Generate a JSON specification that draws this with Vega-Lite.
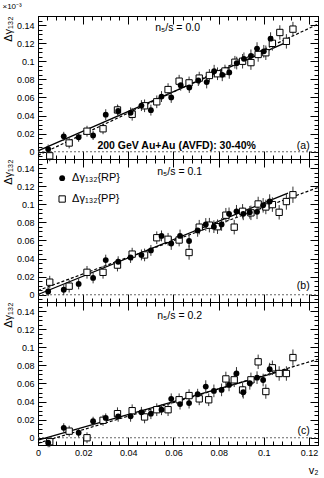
{
  "$schema": "https://vega.github.io/schema/vega-lite/v6.json",
  "padding": {"left": 1, "top": 2, "right": 6, "bottom": 2},
  "spacing": 0,
  "bounds": "flush",
  "config": {
    "font": "Liberation Sans",
    "view": {"stroke": "black", "strokeWidth": 1},
    "axis": {"minExtent": 0, "grid": false, "domainColor": "black", "tickColor": "black", "labelColor": "black", "titleColor": "black", "labelFont": "Liberation Sans", "titleFont": "Liberation Sans", "labelFontSize": 9, "titleFontSize": 11, "titleFontWeight": "normal", "labelOverlap": false, "labelFlush": false}
  },
  "datasets": {
    "pts": [
      {"p":"a","t":"RP","x":0.0045,"y":0.003,"e":0.005},{"p":"a","t":"RP","x":0.0114,"y":0.017,"e":0.005},{"p":"a","t":"RP","x":0.018,"y":0.016,"e":0.005},{"p":"a","t":"RP","x":0.0244,"y":0.018,"e":0.005},{"p":"a","t":"RP","x":0.030,"y":0.041,"e":0.006},{"p":"a","t":"RP","x":0.0355,"y":0.045,"e":0.006},{"p":"a","t":"RP","x":0.041,"y":0.043,"e":0.006},{"p":"a","t":"RP","x":0.0458,"y":0.051,"e":0.006},{"p":"a","t":"RP","x":0.050,"y":0.046,"e":0.006},{"p":"a","t":"RP","x":0.0547,"y":0.061,"e":0.006},{"p":"a","t":"RP","x":0.059,"y":0.060,"e":0.006},{"p":"a","t":"RP","x":0.0632,"y":0.0735,"e":0.006},{"p":"a","t":"RP","x":0.067,"y":0.071,"e":0.006},{"p":"a","t":"RP","x":0.071,"y":0.0787,"e":0.006},{"p":"a","t":"RP","x":0.0747,"y":0.077,"e":0.007},{"p":"a","t":"RP","x":0.078,"y":0.089,"e":0.007},{"p":"a","t":"RP","x":0.0816,"y":0.085,"e":0.007},{"p":"a","t":"RP","x":0.0847,"y":0.0877,"e":0.007},{"p":"a","t":"RP","x":0.088,"y":0.098,"e":0.007},{"p":"a","t":"RP","x":0.0912,"y":0.1027,"e":0.007},{"p":"a","t":"RP","x":0.0943,"y":0.106,"e":0.007},{"p":"a","t":"RP","x":0.097,"y":0.114,"e":0.007},{"p":"a","t":"RP","x":0.100,"y":0.111,"e":0.007},{"p":"a","t":"RP","x":0.103,"y":0.125,"e":0.007},
      {"p":"a","t":"PP","x":0.0052,"y":-0.0045,"e":0.006},{"p":"a","t":"PP","x":0.0138,"y":0.0097,"e":0.006},{"p":"a","t":"PP","x":0.0217,"y":0.0227,"e":0.006},{"p":"a","t":"PP","x":0.0288,"y":0.0254,"e":0.006},{"p":"a","t":"PP","x":0.0352,"y":0.0462,"e":0.006},{"p":"a","t":"PP","x":0.0417,"y":0.0414,"e":0.007},{"p":"a","t":"PP","x":0.0472,"y":0.0508,"e":0.007},{"p":"a","t":"PP","x":0.0526,"y":0.0552,"e":0.007},{"p":"a","t":"PP","x":0.0576,"y":0.0687,"e":0.007},{"p":"a","t":"PP","x":0.0625,"y":0.078,"e":0.007},{"p":"a","t":"PP","x":0.0669,"y":0.0761,"e":0.007},{"p":"a","t":"PP","x":0.0714,"y":0.0814,"e":0.007},{"p":"a","t":"PP","x":0.0759,"y":0.0843,"e":0.007},{"p":"a","t":"PP","x":0.0795,"y":0.0862,"e":0.007},{"p":"a","t":"PP","x":0.0828,"y":0.0892,"e":0.007},{"p":"a","t":"PP","x":0.0872,"y":0.0989,"e":0.007},{"p":"a","t":"PP","x":0.0906,"y":0.100,"e":0.008},{"p":"a","t":"PP","x":0.0943,"y":0.0985,"e":0.008},{"p":"a","t":"PP","x":0.0975,"y":0.1075,"e":0.008},{"p":"a","t":"PP","x":0.1009,"y":0.1094,"e":0.008},{"p":"a","t":"PP","x":0.1038,"y":0.1198,"e":0.008},{"p":"a","t":"PP","x":0.1071,"y":0.1318,"e":0.008},{"p":"a","t":"PP","x":0.110,"y":0.122,"e":0.008},{"p":"a","t":"PP","x":0.1129,"y":0.1355,"e":0.008},
      {"p":"b","t":"RP","x":0.0045,"y":0.0036,"e":0.005},{"p":"b","t":"RP","x":0.0114,"y":0.0055,"e":0.006},{"p":"b","t":"RP","x":0.018,"y":0.012,"e":0.006},{"p":"b","t":"RP","x":0.0244,"y":0.0186,"e":0.006},{"p":"b","t":"RP","x":0.030,"y":0.0383,"e":0.006},{"p":"b","t":"RP","x":0.0355,"y":0.0365,"e":0.006},{"p":"b","t":"RP","x":0.041,"y":0.0412,"e":0.006},{"p":"b","t":"RP","x":0.0458,"y":0.044,"e":0.006},{"p":"b","t":"RP","x":0.050,"y":0.049,"e":0.006},{"p":"b","t":"RP","x":0.0547,"y":0.065,"e":0.006},{"p":"b","t":"RP","x":0.059,"y":0.0566,"e":0.007},{"p":"b","t":"RP","x":0.0629,"y":0.065,"e":0.007},{"p":"b","t":"RP","x":0.0669,"y":0.0594,"e":0.007},{"p":"b","t":"RP","x":0.0707,"y":0.0711,"e":0.007},{"p":"b","t":"RP","x":0.0743,"y":0.0777,"e":0.007},{"p":"b","t":"RP","x":0.0779,"y":0.0752,"e":0.007},{"p":"b","t":"RP","x":0.0813,"y":0.0777,"e":0.007},{"p":"b","t":"RP","x":0.0846,"y":0.0894,"e":0.007},{"p":"b","t":"RP","x":0.0879,"y":0.0922,"e":0.007},{"p":"b","t":"RP","x":0.0909,"y":0.0894,"e":0.007},{"p":"b","t":"RP","x":0.0938,"y":0.0911,"e":0.007},{"p":"b","t":"RP","x":0.097,"y":0.0916,"e":0.008},{"p":"b","t":"RP","x":0.0997,"y":0.0988,"e":0.008},{"p":"b","t":"RP","x":0.1026,"y":0.103,"e":0.008},
      {"p":"b","t":"PP","x":0.0052,"y":0.0139,"e":0.007},{"p":"b","t":"PP","x":0.0138,"y":0.0095,"e":0.007},{"p":"b","t":"PP","x":0.0217,"y":0.0248,"e":0.007},{"p":"b","t":"PP","x":0.0288,"y":0.0248,"e":0.007},{"p":"b","t":"PP","x":0.0352,"y":0.0328,"e":0.007},{"p":"b","t":"PP","x":0.0417,"y":0.0449,"e":0.007},{"p":"b","t":"PP","x":0.0472,"y":0.044,"e":0.007},{"p":"b","t":"PP","x":0.0526,"y":0.063,"e":0.007},{"p":"b","t":"PP","x":0.0576,"y":0.0613,"e":0.007},{"p":"b","t":"PP","x":0.0625,"y":0.0605,"e":0.007},{"p":"b","t":"PP","x":0.0669,"y":0.0467,"e":0.008},{"p":"b","t":"PP","x":0.0714,"y":0.0747,"e":0.008},{"p":"b","t":"PP","x":0.0759,"y":0.0769,"e":0.008},{"p":"b","t":"PP","x":0.0795,"y":0.0752,"e":0.008},{"p":"b","t":"PP","x":0.0832,"y":0.0879,"e":0.008},{"p":"b","t":"PP","x":0.0869,"y":0.0747,"e":0.008},{"p":"b","t":"PP","x":0.0906,"y":0.0922,"e":0.008},{"p":"b","t":"PP","x":0.0943,"y":0.0905,"e":0.008},{"p":"b","t":"PP","x":0.0975,"y":0.1003,"e":0.008},{"p":"b","t":"PP","x":0.1009,"y":0.097,"e":0.008},{"p":"b","t":"PP","x":0.1038,"y":0.0996,"e":0.008},{"p":"b","t":"PP","x":0.1068,"y":0.0911,"e":0.008},{"p":"b","t":"PP","x":0.110,"y":0.103,"e":0.009},{"p":"b","t":"PP","x":0.1129,"y":0.1105,"e":0.009},
      {"p":"c","t":"RP","x":0.0045,"y":-0.0055,"e":0.005},{"p":"c","t":"RP","x":0.0114,"y":0.011,"e":0.005},{"p":"c","t":"RP","x":0.018,"y":0.0055,"e":0.005},{"p":"c","t":"RP","x":0.0244,"y":0.0182,"e":0.005},{"p":"c","t":"RP","x":0.030,"y":0.0219,"e":0.005},{"p":"c","t":"RP","x":0.0355,"y":0.0237,"e":0.006},{"p":"c","t":"RP","x":0.041,"y":0.0237,"e":0.006},{"p":"c","t":"RP","x":0.0458,"y":0.0281,"e":0.006},{"p":"c","t":"RP","x":0.050,"y":0.0266,"e":0.006},{"p":"c","t":"RP","x":0.0547,"y":0.031,"e":0.006},{"p":"c","t":"RP","x":0.059,"y":0.043,"e":0.006},{"p":"c","t":"RP","x":0.0629,"y":0.0372,"e":0.006},{"p":"c","t":"RP","x":0.0669,"y":0.0383,"e":0.006},{"p":"c","t":"RP","x":0.0707,"y":0.0481,"e":0.006},{"p":"c","t":"RP","x":0.0743,"y":0.0565,"e":0.007},{"p":"c","t":"RP","x":0.0779,"y":0.0518,"e":0.007},{"p":"c","t":"RP","x":0.0813,"y":0.0529,"e":0.007},{"p":"c","t":"RP","x":0.0846,"y":0.0584,"e":0.007},{"p":"c","t":"RP","x":0.0879,"y":0.0711,"e":0.007},{"p":"c","t":"RP","x":0.0909,"y":0.0503,"e":0.007},{"p":"c","t":"RP","x":0.0938,"y":0.0602,"e":0.007},{"p":"c","t":"RP","x":0.097,"y":0.0664,"e":0.007},{"p":"c","t":"RP","x":0.0997,"y":0.0638,"e":0.007},{"p":"c","t":"RP","x":0.1026,"y":0.0758,"e":0.007},
      {"p":"c","t":"PP","x":0.0052,"y":-0.0044,"e":0.006},{"p":"c","t":"PP","x":0.0138,"y":0.0073,"e":0.006},{"p":"c","t":"PP","x":0.0217,"y":0.0,"e":0.006},{"p":"c","t":"PP","x":0.0288,"y":0.0193,"e":0.006},{"p":"c","t":"PP","x":0.0352,"y":0.0266,"e":0.007},{"p":"c","t":"PP","x":0.0417,"y":0.0299,"e":0.007},{"p":"c","t":"PP","x":0.0472,"y":0.023,"e":0.007},{"p":"c","t":"PP","x":0.0526,"y":0.031,"e":0.007},{"p":"c","t":"PP","x":0.0576,"y":0.031,"e":0.007},{"p":"c","t":"PP","x":0.0625,"y":0.042,"e":0.007},{"p":"c","t":"PP","x":0.0669,"y":0.0466,"e":0.007},{"p":"c","t":"PP","x":0.0714,"y":0.043,"e":0.007},{"p":"c","t":"PP","x":0.0756,"y":0.042,"e":0.007},{"p":"c","t":"PP","x":0.0832,"y":0.065,"e":0.008},{"p":"c","t":"PP","x":0.0869,"y":0.064,"e":0.008},{"p":"c","t":"PP","x":0.0906,"y":0.0528,"e":0.008},{"p":"c","t":"PP","x":0.0943,"y":0.064,"e":0.008},{"p":"c","t":"PP","x":0.0975,"y":0.0839,"e":0.008},{"p":"c","t":"PP","x":0.1009,"y":0.0511,"e":0.008},{"p":"c","t":"PP","x":0.1038,"y":0.0773,"e":0.008},{"p":"c","t":"PP","x":0.1068,"y":0.071,"e":0.008},{"p":"c","t":"PP","x":0.110,"y":0.071,"e":0.008},{"p":"c","t":"PP","x":0.1129,"y":0.0886,"e":0.009}
    ],
    "fits": [
      {"p":"a","s":"solid","x":0,"y":0.001},{"p":"a","s":"solid","x":0.111,"y":0.122},
      {"p":"a","s":"dash","x":0,"y":-0.004},{"p":"a","s":"dash","x":0.124,"y":0.141},
      {"p":"b","s":"solid","x":0,"y":0.0003},{"p":"b","s":"solid","x":0.1107,"y":0.1124},
      {"p":"b","s":"dash","x":0,"y":0.0047},{"p":"b","s":"dash","x":0.124,"y":0.1185},
      {"p":"c","s":"solid","x":0,"y":-0.0025},{"p":"c","s":"solid","x":0.1107,"y":0.0758},
      {"p":"c","s":"dash","x":0,"y":-0.006},{"p":"c","s":"dash","x":0.124,"y":0.0868}
    ],
    "zero": [{"x":0,"x2":0.124,"y":0}],
    "txt": [
      {"p":"a","k":"ns","x":0.0519,"y":0.1366,"text":"n₅/s = 0.0"},
      {"p":"a","k":"bold","x":0.0263,"y":0.0067,"text":"200 GeV Au+Au (AVFD): 30-40%"},
      {"p":"a","k":"tag","x":0.1203,"y":0.0067,"text":"(a)"},
      {"p":"b","k":"ns","x":0.0528,"y":0.1357,"text":"n₅/s = 0.1"},
      {"p":"b","k":"tag","x":0.1203,"y":0.0102,"text":"(b)"},
      {"p":"b","k":"leg","x":0.0151,"y":0.1288,"text":"Δγ₁₃₂{RP}"},
      {"p":"b","k":"leg","x":0.0151,"y":0.1058,"text":"Δγ₁₃₂{PP}"},
      {"p":"c","k":"ns","x":0.0528,"y":0.1346,"text":"n₅/s = 0.2"},
      {"p":"c","k":"tag","x":0.1203,"y":0.0077,"text":"(c)"}
    ],
    "legmk": [{"t":"RP","x":0.0107,"y":0.1288},{"t":"PP","x":0.0107,"y":0.1058}],
    "one": [{"x":0,"y":0}]
  },
  "vconcat": [
    {
      "title": {"text": "×10⁻³", "anchor": "start", "fontSize": 8, "fontWeight": "normal", "offset": 1, "font": "Liberation Sans"},
      "width": 280, "height": 143,
      "resolve": {"axis": {"x": "independent", "y": "independent"}},
      "layer": [
        {
          "encoding": {
            "x": {"field": "x", "type": "quantitative", "scale": {"domain": [0, 0.124], "nice": false, "zero": false},
              "axis": {"orient": "bottom", "title": null, "labels": false, "values": [0,0.004,0.008,0.012,0.016,0.02,0.024,0.028,0.032,0.036,0.04,0.044,0.048,0.052,0.056,0.06,0.064,0.068,0.072,0.076,0.08,0.084,0.088,0.092,0.096,0.1,0.104,0.108,0.112,0.116,0.12,0.124],
                "tickSize": {"condition": {"test": "abs(datum.value*50-round(datum.value*50))<0.001", "value": -8}, "value": -4}}},
            "y": {"field": "y", "type": "quantitative", "scale": {"domain": [-0.008, 0.15], "nice": false, "zero": false},
              "axis": {"orient": "left", "title": "Δγ₁₃₂", "titleAnchor": "end", "titlePadding": 3, "labelPadding": 12, "values": [-0.005,0,0.005,0.01,0.015,0.02,0.025,0.03,0.035,0.04,0.045,0.05,0.055,0.06,0.065,0.07,0.075,0.08,0.085,0.09,0.095,0.1,0.105,0.11,0.115,0.12,0.125,0.13,0.135,0.14,0.145,0.15],
                "labelExpr": "abs(datum.value*50-round(datum.value*50))<0.001 ? toString(round(datum.value*100)/100) : ''",
                "tickSize": {"condition": {"test": "abs(datum.value*50-round(datum.value*50))<0.001", "value": -8}, "value": -4}}}
          },
          "layer": [
            {"data": {"name": "zero"}, "mark": {"type": "rule", "color": "#666", "strokeDash": [2, 2], "strokeWidth": 1}, "encoding": {"x2": {"field": "x2"}}},
            {"data": {"name": "fits"}, "transform": [{"filter": "datum.p=='a' && datum.s=='dash'"}], "mark": {"type": "line", "color": "black", "strokeWidth": 1.2, "strokeDash": [3, 2]}, "encoding": {}},
            {"data": {"name": "fits"}, "transform": [{"filter": "datum.p=='a' && datum.s=='solid'"}], "mark": {"type": "line", "color": "black", "strokeWidth": 1.3}, "encoding": {}},
            {"data": {"name": "pts"}, "transform": [{"filter": "datum.p=='a'"}], "mark": {"type": "errorbar", "color": "#333", "thickness": 1}, "encoding": {"yError": {"field": "e"}}},
            {"data": {"name": "pts"}, "transform": [{"filter": "datum.p=='a' && datum.t=='PP'"}], "mark": {"type": "point", "shape": "square", "filled": true, "fill": "white", "stroke": "black", "strokeWidth": 1, "size": 40, "opacity": 1}},
            {"data": {"name": "pts"}, "transform": [{"filter": "datum.p=='a' && datum.t=='RP'"}], "mark": {"type": "point", "shape": "circle", "filled": true, "color": "black", "size": 34, "opacity": 1}},
            {"data": {"name": "txt"}, "transform": [{"filter": "datum.p=='a' && datum.k=='ns'"}], "mark": {"type": "text", "align": "left", "baseline": "middle", "fontSize": 10.5, "color": "black"}, "encoding": {"text": {"field": "text"}}},
            {"data": {"name": "txt"}, "transform": [{"filter": "datum.p=='a' && datum.k=='bold'"}], "mark": {"type": "text", "align": "left", "baseline": "middle", "fontSize": 10.5, "fontWeight": "bold", "color": "black"}, "encoding": {"text": {"field": "text"}}},
            {"data": {"name": "txt"}, "transform": [{"filter": "datum.p=='a' && datum.k=='tag'"}], "mark": {"type": "text", "align": "right", "baseline": "middle", "fontSize": 10.5, "color": "black"}, "encoding": {"text": {"field": "text"}}}
          ]
        },
        {
          "data": {"name": "one"},
          "mark": {"type": "point", "opacity": 0},
          "encoding": {
            "x": {"field": "x", "type": "quantitative", "scale": {"domain": [0, 0.124], "nice": false, "zero": false},
              "axis": {"orient": "top", "title": null, "labels": false, "values": [0,0.004,0.008,0.012,0.016,0.02,0.024,0.028,0.032,0.036,0.04,0.044,0.048,0.052,0.056,0.06,0.064,0.068,0.072,0.076,0.08,0.084,0.088,0.092,0.096,0.1,0.104,0.108,0.112,0.116,0.12,0.124],
                "tickSize": {"condition": {"test": "abs(datum.value*50-round(datum.value*50))<0.001", "value": -8}, "value": -4}}},
            "y": {"field": "y", "type": "quantitative", "scale": {"domain": [-0.008, 0.15], "nice": false, "zero": false},
              "axis": {"orient": "right", "title": null, "labels": false, "values": [-0.005,0,0.005,0.01,0.015,0.02,0.025,0.03,0.035,0.04,0.045,0.05,0.055,0.06,0.065,0.07,0.075,0.08,0.085,0.09,0.095,0.1,0.105,0.11,0.115,0.12,0.125,0.13,0.135,0.14,0.145,0.15],
                "tickSize": {"condition": {"test": "abs(datum.value*50-round(datum.value*50))<0.001", "value": -8}, "value": -4}}}
          }
        }
      ]
    },
    {
      "width": 280, "height": 143,
      "resolve": {"axis": {"x": "independent", "y": "independent"}},
      "layer": [
        {
          "encoding": {
            "x": {"field": "x", "type": "quantitative", "scale": {"domain": [0, 0.124], "nice": false, "zero": false},
              "axis": {"orient": "bottom", "title": null, "labels": false, "values": [0,0.004,0.008,0.012,0.016,0.02,0.024,0.028,0.032,0.036,0.04,0.044,0.048,0.052,0.056,0.06,0.064,0.068,0.072,0.076,0.08,0.084,0.088,0.092,0.096,0.1,0.104,0.108,0.112,0.116,0.12,0.124],
                "tickSize": {"condition": {"test": "abs(datum.value*50-round(datum.value*50))<0.001", "value": -8}, "value": -4}}},
            "y": {"field": "y", "type": "quantitative", "scale": {"domain": [-0.008, 0.15], "nice": false, "zero": false},
              "axis": {"orient": "left", "title": "Δγ₁₃₂", "titleAnchor": "end", "titlePadding": 3, "labelPadding": 12, "values": [-0.005,0,0.005,0.01,0.015,0.02,0.025,0.03,0.035,0.04,0.045,0.05,0.055,0.06,0.065,0.07,0.075,0.08,0.085,0.09,0.095,0.1,0.105,0.11,0.115,0.12,0.125,0.13,0.135,0.14,0.145,0.15],
                "labelExpr": "abs(datum.value*50-round(datum.value*50))<0.001 ? toString(round(datum.value*100)/100) : ''",
                "tickSize": {"condition": {"test": "abs(datum.value*50-round(datum.value*50))<0.001", "value": -8}, "value": -4}}}
          },
          "layer": [
            {"data": {"name": "zero"}, "mark": {"type": "rule", "color": "#666", "strokeDash": [2, 2], "strokeWidth": 1}, "encoding": {"x2": {"field": "x2"}}},
            {"data": {"name": "fits"}, "transform": [{"filter": "datum.p=='b' && datum.s=='dash'"}], "mark": {"type": "line", "color": "black", "strokeWidth": 1.2, "strokeDash": [3, 2]}, "encoding": {}},
            {"data": {"name": "fits"}, "transform": [{"filter": "datum.p=='b' && datum.s=='solid'"}], "mark": {"type": "line", "color": "black", "strokeWidth": 1.3}, "encoding": {}},
            {"data": {"name": "pts"}, "transform": [{"filter": "datum.p=='b'"}], "mark": {"type": "errorbar", "color": "#333", "thickness": 1}, "encoding": {"yError": {"field": "e"}}},
            {"data": {"name": "pts"}, "transform": [{"filter": "datum.p=='b' && datum.t=='PP'"}], "mark": {"type": "point", "shape": "square", "filled": true, "fill": "white", "stroke": "black", "strokeWidth": 1, "size": 40, "opacity": 1}},
            {"data": {"name": "pts"}, "transform": [{"filter": "datum.p=='b' && datum.t=='RP'"}], "mark": {"type": "point", "shape": "circle", "filled": true, "color": "black", "size": 34, "opacity": 1}},
            {"data": {"name": "legmk"}, "transform": [{"filter": "datum.t=='PP'"}], "mark": {"type": "point", "shape": "square", "filled": true, "fill": "white", "stroke": "black", "strokeWidth": 1, "size": 40, "opacity": 1}},
            {"data": {"name": "legmk"}, "transform": [{"filter": "datum.t=='RP'"}], "mark": {"type": "point", "shape": "circle", "filled": true, "color": "black", "size": 34, "opacity": 1}},
            {"data": {"name": "txt"}, "transform": [{"filter": "datum.p=='b' && datum.k=='ns'"}], "mark": {"type": "text", "align": "left", "baseline": "middle", "fontSize": 10.5, "color": "black"}, "encoding": {"text": {"field": "text"}}},
            {"data": {"name": "txt"}, "transform": [{"filter": "datum.p=='b' && datum.k=='leg'"}], "mark": {"type": "text", "align": "left", "baseline": "middle", "fontSize": 11, "color": "black"}, "encoding": {"text": {"field": "text"}}},
            {"data": {"name": "txt"}, "transform": [{"filter": "datum.p=='b' && datum.k=='tag'"}], "mark": {"type": "text", "align": "right", "baseline": "middle", "fontSize": 10.5, "color": "black"}, "encoding": {"text": {"field": "text"}}}
          ]
        },
        {
          "data": {"name": "one"},
          "mark": {"type": "point", "opacity": 0},
          "encoding": {
            "x": {"field": "x", "type": "quantitative", "scale": {"domain": [0, 0.124], "nice": false, "zero": false},
              "axis": {"orient": "top", "title": null, "labels": false, "values": [0,0.004,0.008,0.012,0.016,0.02,0.024,0.028,0.032,0.036,0.04,0.044,0.048,0.052,0.056,0.06,0.064,0.068,0.072,0.076,0.08,0.084,0.088,0.092,0.096,0.1,0.104,0.108,0.112,0.116,0.12,0.124],
                "tickSize": {"condition": {"test": "abs(datum.value*50-round(datum.value*50))<0.001", "value": -8}, "value": -4}}},
            "y": {"field": "y", "type": "quantitative", "scale": {"domain": [-0.008, 0.15], "nice": false, "zero": false},
              "axis": {"orient": "right", "title": null, "labels": false, "values": [-0.005,0,0.005,0.01,0.015,0.02,0.025,0.03,0.035,0.04,0.045,0.05,0.055,0.06,0.065,0.07,0.075,0.08,0.085,0.09,0.095,0.1,0.105,0.11,0.115,0.12,0.125,0.13,0.135,0.14,0.145,0.15],
                "tickSize": {"condition": {"test": "abs(datum.value*50-round(datum.value*50))<0.001", "value": -8}, "value": -4}}}
          }
        }
      ]
    },
    {
      "width": 280, "height": 143,
      "resolve": {"axis": {"x": "independent", "y": "independent"}},
      "layer": [
        {
          "encoding": {
            "x": {"field": "x", "type": "quantitative", "scale": {"domain": [0, 0.124], "nice": false, "zero": false},
              "axis": {"orient": "bottom", "title": "v₂", "titleAnchor": "end", "titlePadding": 3, "labelPadding": 11, "values": [0,0.004,0.008,0.012,0.016,0.02,0.024,0.028,0.032,0.036,0.04,0.044,0.048,0.052,0.056,0.06,0.064,0.068,0.072,0.076,0.08,0.084,0.088,0.092,0.096,0.1,0.104,0.108,0.112,0.116,0.12,0.124],
                "labelExpr": "abs(datum.value*50-round(datum.value*50))<0.001 ? toString(round(datum.value*100)/100) : ''",
                "tickSize": {"condition": {"test": "abs(datum.value*50-round(datum.value*50))<0.001", "value": -8}, "value": -4}}},
            "y": {"field": "y", "type": "quantitative", "scale": {"domain": [-0.008, 0.15], "nice": false, "zero": false},
              "axis": {"orient": "left", "title": "Δγ₁₃₂", "titleAnchor": "end", "titlePadding": 3, "labelPadding": 12, "values": [-0.005,0,0.005,0.01,0.015,0.02,0.025,0.03,0.035,0.04,0.045,0.05,0.055,0.06,0.065,0.07,0.075,0.08,0.085,0.09,0.095,0.1,0.105,0.11,0.115,0.12,0.125,0.13,0.135,0.14,0.145,0.15],
                "labelExpr": "abs(datum.value*50-round(datum.value*50))<0.001 ? toString(round(datum.value*100)/100) : ''",
                "tickSize": {"condition": {"test": "abs(datum.value*50-round(datum.value*50))<0.001", "value": -8}, "value": -4}}}
          },
          "layer": [
            {"data": {"name": "zero"}, "mark": {"type": "rule", "color": "#666", "strokeDash": [2, 2], "strokeWidth": 1}, "encoding": {"x2": {"field": "x2"}}},
            {"data": {"name": "fits"}, "transform": [{"filter": "datum.p=='c' && datum.s=='dash'"}], "mark": {"type": "line", "color": "black", "strokeWidth": 1.2, "strokeDash": [3, 2]}, "encoding": {}},
            {"data": {"name": "fits"}, "transform": [{"filter": "datum.p=='c' && datum.s=='solid'"}], "mark": {"type": "line", "color": "black", "strokeWidth": 1.3}, "encoding": {}},
            {"data": {"name": "pts"}, "transform": [{"filter": "datum.p=='c'"}], "mark": {"type": "errorbar", "color": "#333", "thickness": 1}, "encoding": {"yError": {"field": "e"}}},
            {"data": {"name": "pts"}, "transform": [{"filter": "datum.p=='c' && datum.t=='PP'"}], "mark": {"type": "point", "shape": "square", "filled": true, "fill": "white", "stroke": "black", "strokeWidth": 1, "size": 40, "opacity": 1}},
            {"data": {"name": "pts"}, "transform": [{"filter": "datum.p=='c' && datum.t=='RP'"}], "mark": {"type": "point", "shape": "circle", "filled": true, "color": "black", "size": 34, "opacity": 1}},
            {"data": {"name": "txt"}, "transform": [{"filter": "datum.p=='c' && datum.k=='ns'"}], "mark": {"type": "text", "align": "left", "baseline": "middle", "fontSize": 10.5, "color": "black"}, "encoding": {"text": {"field": "text"}}},
            {"data": {"name": "txt"}, "transform": [{"filter": "datum.p=='c' && datum.k=='tag'"}], "mark": {"type": "text", "align": "right", "baseline": "middle", "fontSize": 10.5, "color": "black"}, "encoding": {"text": {"field": "text"}}}
          ]
        },
        {
          "data": {"name": "one"},
          "mark": {"type": "point", "opacity": 0},
          "encoding": {
            "x": {"field": "x", "type": "quantitative", "scale": {"domain": [0, 0.124], "nice": false, "zero": false},
              "axis": {"orient": "top", "title": null, "labels": false, "values": [0,0.004,0.008,0.012,0.016,0.02,0.024,0.028,0.032,0.036,0.04,0.044,0.048,0.052,0.056,0.06,0.064,0.068,0.072,0.076,0.08,0.084,0.088,0.092,0.096,0.1,0.104,0.108,0.112,0.116,0.12,0.124],
                "tickSize": {"condition": {"test": "abs(datum.value*50-round(datum.value*50))<0.001", "value": -8}, "value": -4}}},
            "y": {"field": "y", "type": "quantitative", "scale": {"domain": [-0.008, 0.15], "nice": false, "zero": false},
              "axis": {"orient": "right", "title": null, "labels": false, "values": [-0.005,0,0.005,0.01,0.015,0.02,0.025,0.03,0.035,0.04,0.045,0.05,0.055,0.06,0.065,0.07,0.075,0.08,0.085,0.09,0.095,0.1,0.105,0.11,0.115,0.12,0.125,0.13,0.135,0.14,0.145,0.15],
                "tickSize": {"condition": {"test": "abs(datum.value*50-round(datum.value*50))<0.001", "value": -8}, "value": -4}}}
          }
        }
      ]
    }
  ]
}
